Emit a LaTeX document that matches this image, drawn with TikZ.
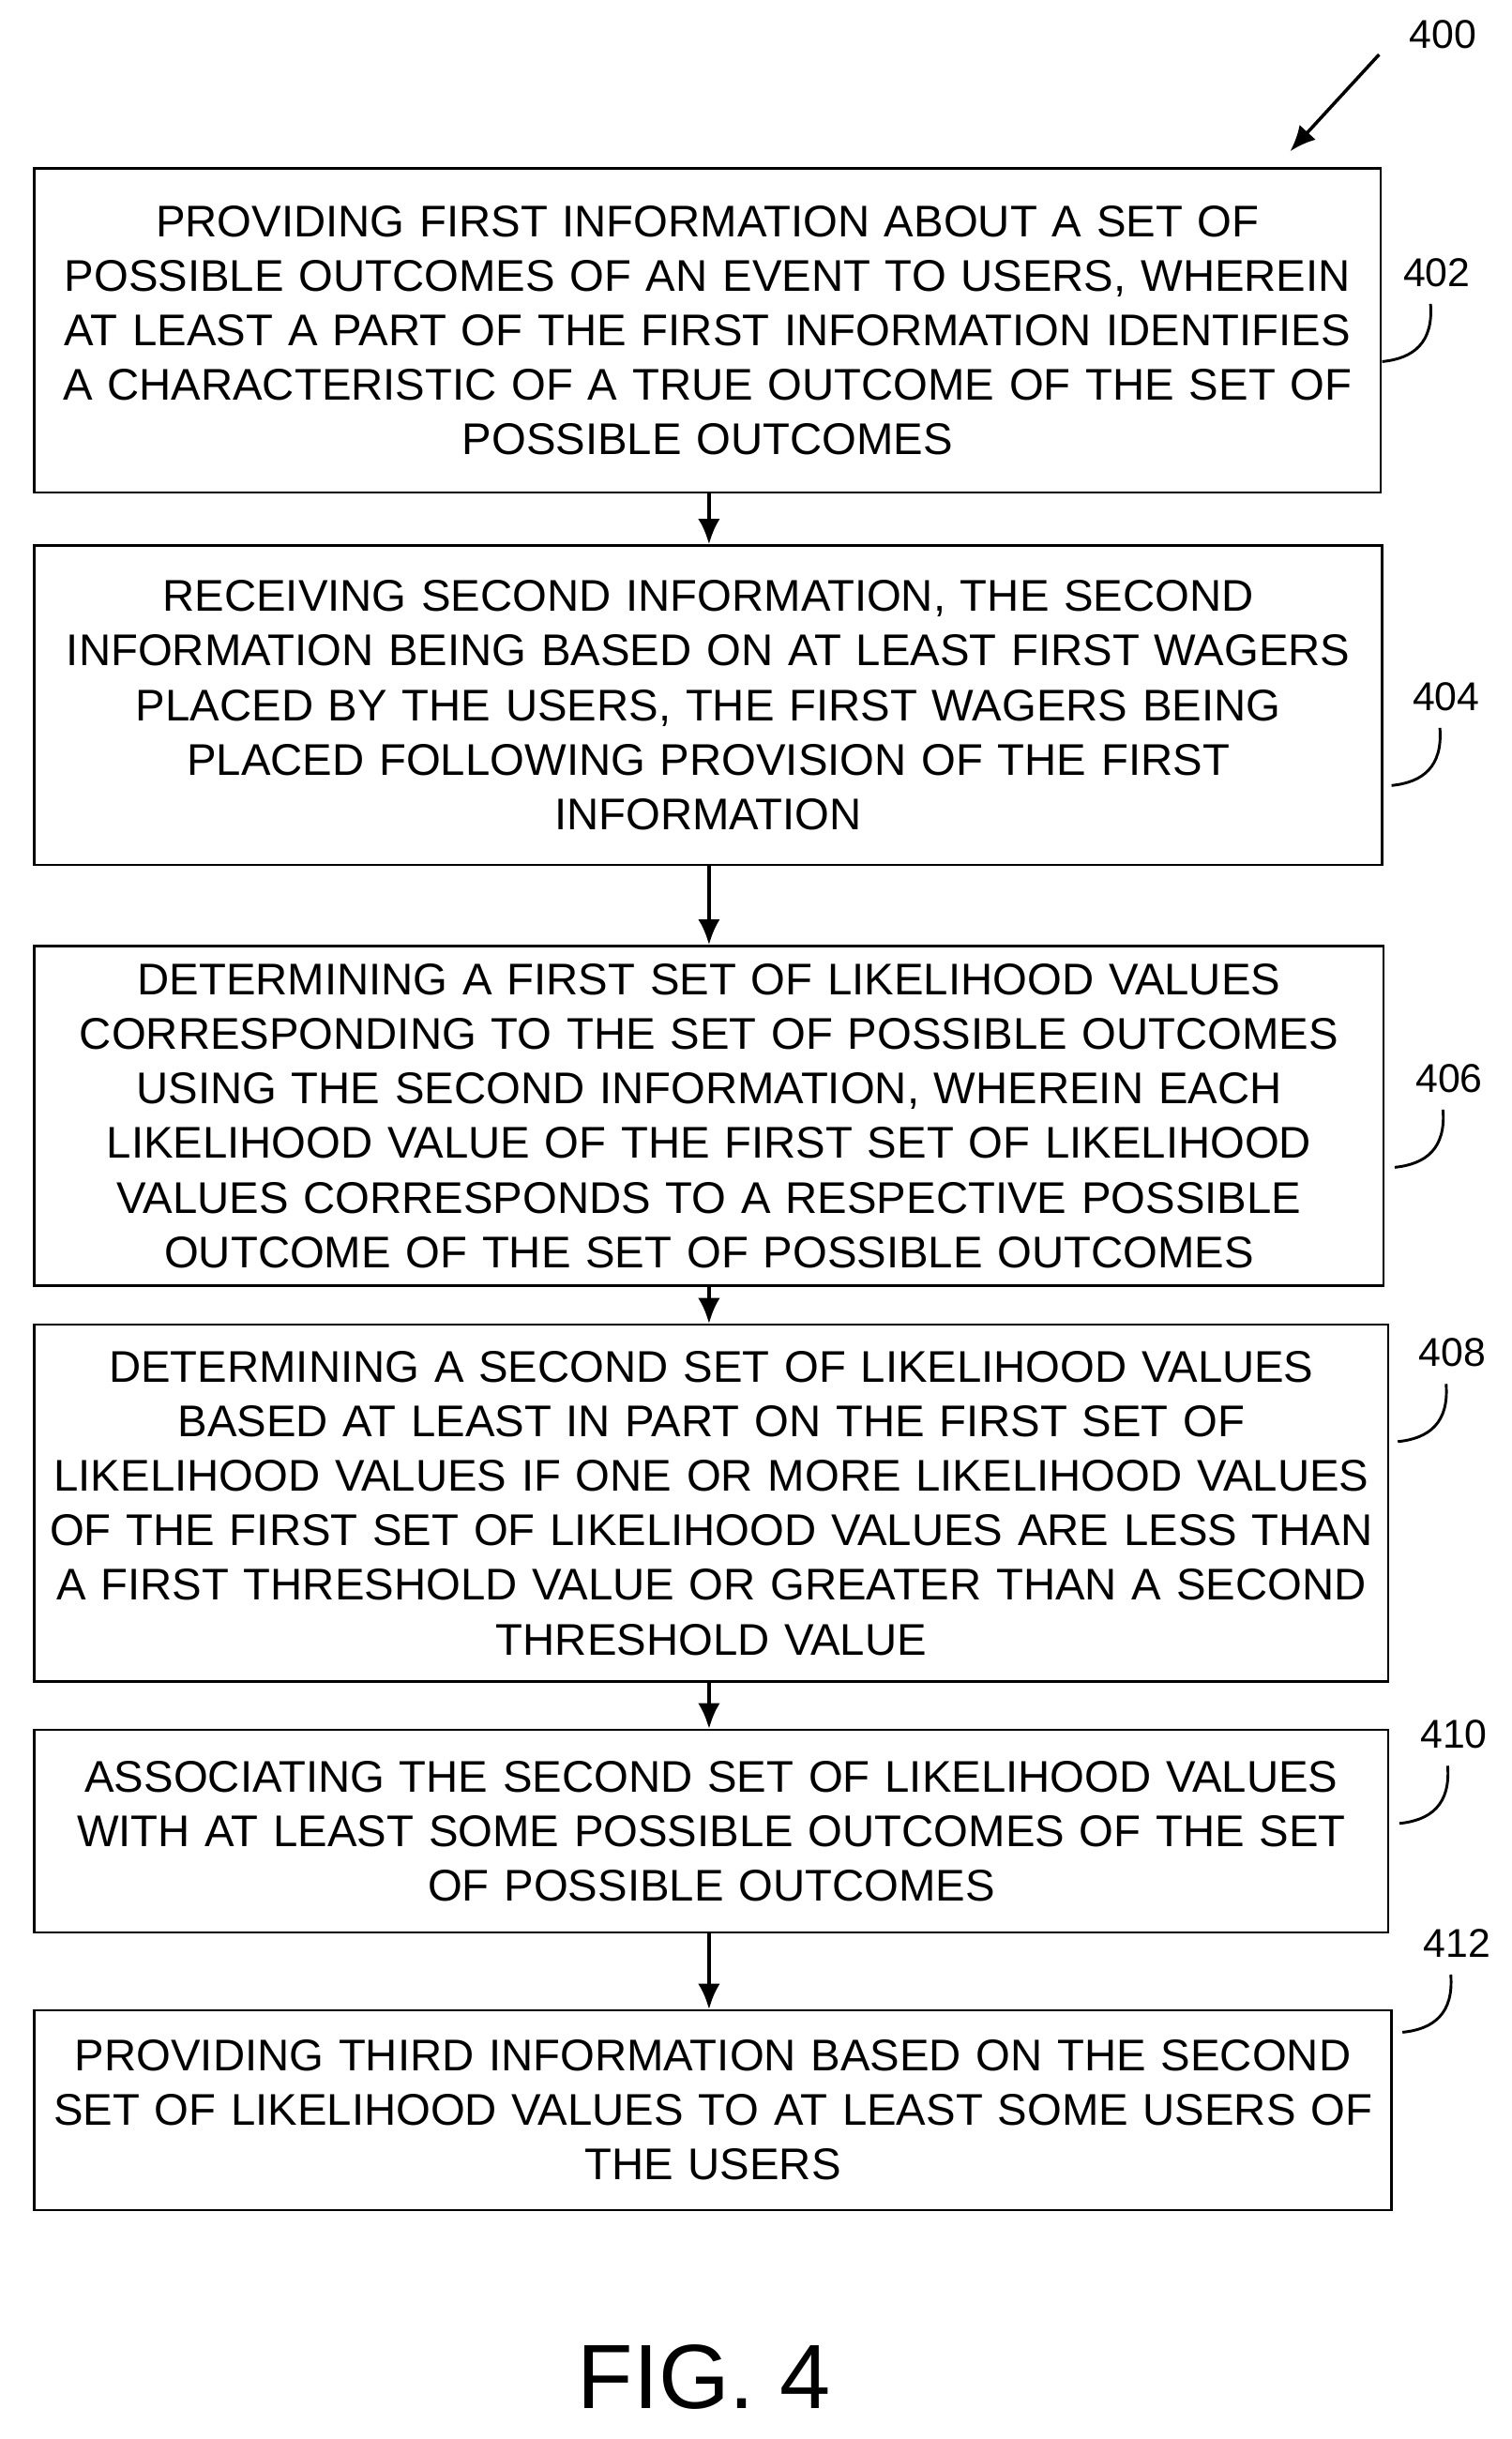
\documentclass[tikz,border=0pt]{standalone}
\usepackage{fontspec}
\setmainfont{Liberation Sans}
\begin{document}
\begin{tikzpicture}[x=0.03cm,y=-0.03cm,
  box/.style={draw,line width=1.2pt,inner sep=0pt,align=center,font=\fontsize{24.3}{29.9}\selectfont},
  arr/.style={line width=2pt,-{Latex[length=14pt,width=12pt]}},
  lab/.style={font=\fontsize{22}{26}\selectfont},
  curl/.style={line width=1.5pt}]
\usetikzlibrary{arrows.meta}
\useasboundingbox (0,0) rectangle (970,1565);
\def\bx#1#2#3#4#5#6{\node[box,minimum width={(#3-#2)*0.03cm},minimum height={(#5-#4)*0.03cm},text width={(#3-#2-4)*0.03cm}] (#1) at ({(#2+#3)/2},{(#4+#5)/2}) {#6};}
\bx{b402}{22}{886}{108}{316}{PROVIDING FIRST INFORMATION ABOUT A SET OF\\POSSIBLE OUTCOMES OF AN EVENT TO USERS, WHEREIN\\AT LEAST A PART OF THE FIRST INFORMATION IDENTIFIES\\A CHARACTERISTIC OF A TRUE OUTCOME OF THE SET OF\\POSSIBLE OUTCOMES}
\bx{b404}{22}{887}{350}{555}{RECEIVING SECOND INFORMATION, THE SECOND\\INFORMATION BEING BASED ON AT LEAST FIRST WAGERS\\PLACED BY THE USERS, THE FIRST WAGERS BEING\\PLACED FOLLOWING PROVISION OF THE FIRST\\INFORMATION}
\bx{b406}{22}{888}{607}{825}{DETERMINING A FIRST SET OF LIKELIHOOD VALUES\\CORRESPONDING TO THE SET OF POSSIBLE OUTCOMES\\USING THE SECOND INFORMATION, WHEREIN EACH\\LIKELIHOOD VALUE OF THE FIRST SET OF LIKELIHOOD\\VALUES CORRESPONDS TO A RESPECTIVE POSSIBLE\\OUTCOME OF THE SET OF POSSIBLE OUTCOMES}
\bx{b408}{22}{891}{850}{1079}{DETERMINING A SECOND SET OF LIKELIHOOD VALUES\\BASED AT LEAST IN PART ON THE FIRST SET OF\\LIKELIHOOD VALUES IF ONE OR MORE LIKELIHOOD VALUES\\OF THE FIRST SET OF LIKELIHOOD VALUES ARE LESS THAN\\A FIRST THRESHOLD VALUE OR GREATER THAN A SECOND\\THRESHOLD VALUE}
\bx{b410}{22}{891}{1110}{1240}{ASSOCIATING THE SECOND SET OF LIKELIHOOD VALUES\\WITH AT LEAST SOME POSSIBLE OUTCOMES OF THE SET\\OF POSSIBLE OUTCOMES}
\bx{b412}{22}{893}{1290}{1418}{PROVIDING THIRD INFORMATION BASED ON THE SECOND\\SET OF LIKELIHOOD VALUES TO AT LEAST SOME USERS OF\\THE USERS}
\foreach \a/\b in {b402/b404,b404/b406,b406/b408,b408/b410,b410/b412}
  \draw[arr] (\a.south -| 455,0) -- (\b.north -| 455,0);
\node[lab] (l400) at (926,22) {400};
\coordinate (s400) at (885,35); \coordinate (e400) at (828,97);
\draw[arr,line width=1.8pt] (s400) -- (e400);
\foreach \n/\x/\y in {402/922/175,404/928/447,406/930/692,408/932/868,410/933/1113,412/935/1247}{
  \node[lab] (l\n) at (\x,\y) {\n};
  \coordinate (c\n) at (\x-4,\y+20);
  \draw[curl] (c\n) .. controls (\x-2,\y+45) and (\x-15,\y+55) .. (\x-35,\y+57);
}
\node[font=\fontsize{50}{58}\selectfont] (fig) at (452,1525) {FIG. 4};
\end{tikzpicture}
\end{document}
